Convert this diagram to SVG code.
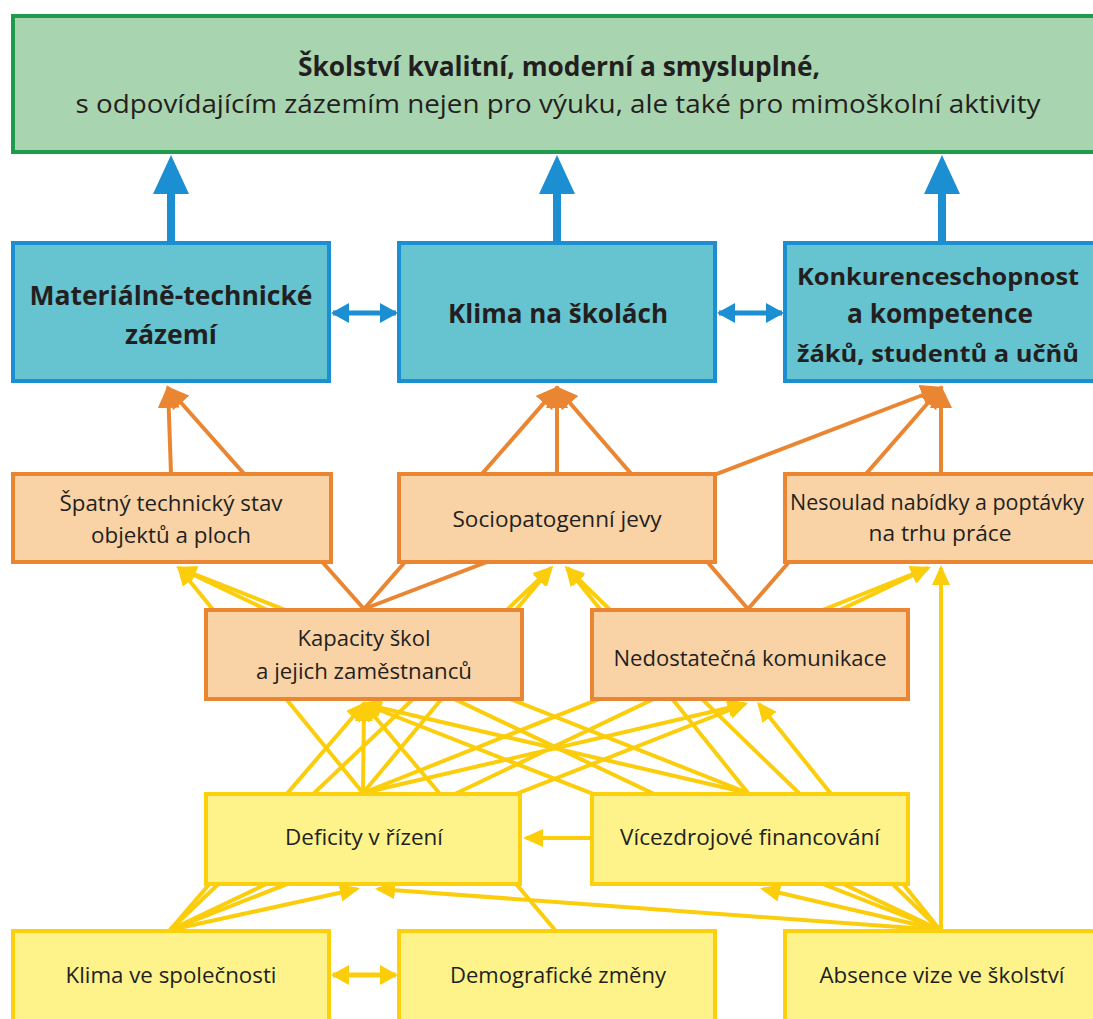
<svg xmlns="http://www.w3.org/2000/svg" width="1093" height="1019" viewBox="0 0 1093 1019">
<style>
.t{font-family:"Open Sans","Noto Sans","Liberation Sans",sans-serif;fill:#231f20;text-anchor:middle}
.s{font-size:22px}
.b{font-size:27px;font-weight:bold}
.gr{fill:#a9d4b0;stroke:#1f9c4b;stroke-width:4}
.bl{fill:#66c3d0;stroke:#1b8fd2;stroke-width:4}
.or{fill:#f9d3a6;stroke:#ea8632;stroke-width:4}
.ye{fill:#fef38b;stroke:#fdd00e;stroke-width:4}
.ly{stroke:#fccd0b;stroke-width:4;fill:none;marker-end:url(#ay)}
.lo{stroke:#ea8632;stroke-width:4;fill:none;marker-end:url(#ao)}
.lb{stroke:#1b8fd2;stroke-width:5;fill:none;marker-end:url(#ab);marker-start:url(#ab)}
.lyd{stroke:#fccd0b;stroke-width:5;fill:none;marker-end:url(#ay2);marker-start:url(#ay2)}
</style>
<defs>
<marker id="ay" markerUnits="userSpaceOnUse" markerWidth="20" markerHeight="18" viewBox="0 0 20 18" refX="17" refY="9" orient="auto"><path d="M0,0 L20,9 L0,18 z" fill="#fccd0b"/></marker>
<marker id="ay2" markerUnits="userSpaceOnUse" markerWidth="18" markerHeight="20" viewBox="0 0 18 20" refX="16" refY="10" orient="auto-start-reverse"><path d="M0,0 L18,10 L0,20 z" fill="#fccd0b"/></marker>
<marker id="ao" markerUnits="userSpaceOnUse" markerWidth="23" markerHeight="22" viewBox="0 0 23 22" refX="20" refY="11" orient="auto"><path d="M0,0 L23,11 L0,22 z" fill="#ea8632"/></marker>
<marker id="ab" markerUnits="userSpaceOnUse" markerWidth="18" markerHeight="20" viewBox="0 0 18 20" refX="16" refY="10" orient="auto-start-reverse"><path d="M0,0 L18,10 L0,20 z" fill="#1b8fd2"/></marker>
</defs>
<rect width="1093" height="1019" fill="#ffffff"/>
<g id="connectors">
<path d="M167,242 V194 H153 L171,155 L189,194 H175 V242 Z" fill="#1b8fd2"/>
<path d="M553,242 V194 H539 L557,155 L575,194 H561 V242 Z" fill="#1b8fd2"/>
<path d="M938,242 V194 H924 L942,155 L960,194 H946 V242 Z" fill="#1b8fd2"/>
<line class="lb" x1="333" y1="313" x2="396" y2="313"/>
<line class="lb" x1="719" y1="313" x2="782" y2="313"/>
<line class="lo" x1="171" y1="473" x2="168" y2="388"/>
<line class="lo" x1="364" y1="609" x2="168" y2="388"/>
<line class="lo" x1="557" y1="473" x2="557" y2="388"/>
<line class="lo" x1="364" y1="609" x2="557" y2="388"/>
<line class="lo" x1="748" y1="609" x2="557" y2="388"/>
<line class="lo" x1="941" y1="473" x2="941" y2="388"/>
<line class="lo" x1="364" y1="609" x2="941" y2="388"/>
<line class="lo" x1="748" y1="609" x2="941" y2="388"/>
<line class="ly" x1="363" y1="793" x2="179" y2="568"/>
<line class="ly" x1="363" y1="793" x2="364" y2="704"/>
<line class="ly" x1="363" y1="793" x2="551" y2="568"/>
<line class="ly" x1="363" y1="793" x2="928" y2="568"/>
<line class="ly" x1="363" y1="793" x2="745" y2="704"/>
<line class="ly" x1="748" y1="793" x2="179" y2="568"/>
<line class="ly" x1="748" y1="793" x2="567" y2="568"/>
<line class="ly" x1="748" y1="793" x2="364" y2="704"/>
<line class="ly" x1="591" y1="838" x2="526" y2="838"/>
<line class="ly" x1="170" y1="930" x2="364" y2="704"/>
<line class="ly" x1="170" y1="930" x2="551" y2="568"/>
<line class="ly" x1="170" y1="930" x2="745" y2="704"/>
<line class="ly" x1="170" y1="930" x2="928" y2="568"/>
<line class="ly" x1="170" y1="930" x2="357" y2="889"/>
<line class="ly" x1="555" y1="930" x2="364" y2="704"/>
<line class="ly" x1="940" y1="930" x2="179" y2="568"/>
<line class="ly" x1="940" y1="930" x2="567" y2="568"/>
<line class="ly" x1="940" y1="930" x2="364" y2="704"/>
<line class="ly" x1="940" y1="930" x2="759" y2="704"/>
<line class="ly" x1="940" y1="930" x2="378" y2="889"/>
<line class="ly" x1="940" y1="930" x2="763" y2="889"/>
<line class="ly" x1="941" y1="930" x2="941" y2="568"/>
<line class="lyd" x1="333" y1="975" x2="396" y2="975"/>
</g>
<g id="goal">
<rect class="gr" x="13" y="16" width="1100" height="136"/>
<text class="t" x="559" y="76" style="font-size:26px;font-weight:bold" textLength="522" lengthAdjust="spacingAndGlyphs">Školství kvalitní, moderní a smysluplné,</text>
<text class="t" x="558" y="113" style="font-size:26px" textLength="965" lengthAdjust="spacingAndGlyphs">s odpovídajícím zázemím nejen pro výuku, ale také pro mimoškolní aktivity</text>
</g>
<g id="n-material">
<rect class="bl" x="13" y="243" width="316" height="138"/>
<text class="t b" x="171" y="305" textLength="283" lengthAdjust="spacingAndGlyphs">Materiálně-technické</text>
<text class="t b" x="171" y="344" textLength="92" lengthAdjust="spacingAndGlyphs">zázemí</text>
</g>
<g id="n-klima-skoly">
<rect class="bl" x="399" y="243" width="316" height="138"/>
<text class="t b" x="558" y="323" textLength="220" lengthAdjust="spacingAndGlyphs">Klima na školách</text>
</g>
<g id="n-konkurence">
<rect class="bl" x="785" y="243" width="330" height="138"/>
<text class="t b" x="938" y="285" style="font-size:24px" textLength="282" lengthAdjust="spacingAndGlyphs">Konkurenceschopnost</text>
<text class="t b" x="940" y="323" textLength="186" lengthAdjust="spacingAndGlyphs">a kompetence</text>
<text class="t b" x="938" y="362" style="font-size:24px" textLength="282" lengthAdjust="spacingAndGlyphs">žáků, studentů a učňů</text>
</g>
<g id="n-stav">
<rect class="or" x="13" y="474" width="318" height="88"/>
<text class="t s" x="171" y="511" textLength="223" lengthAdjust="spacingAndGlyphs">Špatný technický stav</text>
<text class="t s" x="171" y="543" textLength="160" lengthAdjust="spacingAndGlyphs">objektů a ploch</text>
</g>
<g id="n-socio">
<rect class="or" x="399" y="474" width="316" height="88"/>
<text class="t s" x="557" y="527" textLength="209" lengthAdjust="spacingAndGlyphs">Sociopatogenní jevy</text>
</g>
<g id="n-nesoulad">
<rect class="or" x="785" y="474" width="330" height="88"/>
<text class="t s" x="937" y="510" textLength="294" lengthAdjust="spacingAndGlyphs">Nesoulad nabídky a poptávky</text>
<text class="t s" x="940" y="541" textLength="143" lengthAdjust="spacingAndGlyphs">na trhu práce</text>
</g>
<g id="n-kapacity">
<rect class="or" x="206" y="610" width="316" height="89"/>
<text class="t s" x="364" y="646" textLength="133" lengthAdjust="spacingAndGlyphs">Kapacity škol</text>
<text class="t s" x="364" y="679" textLength="216" lengthAdjust="spacingAndGlyphs">a jejich zaměstnanců</text>
</g>
<g id="n-komunikace">
<rect class="or" x="592" y="610" width="316" height="89"/>
<text class="t s" x="750" y="666" textLength="273" lengthAdjust="spacingAndGlyphs">Nedostatečná komunikace</text>
</g>
<g id="n-deficity">
<rect class="ye" x="206" y="794" width="314" height="90"/>
<text class="t s" x="364" y="845" textLength="158" lengthAdjust="spacingAndGlyphs">Deficity v řízení</text>
</g>
<g id="n-financovani">
<rect class="ye" x="592" y="794" width="316" height="90"/>
<text class="t s" x="750" y="845" textLength="260" lengthAdjust="spacingAndGlyphs">Vícezdrojové financování</text>
</g>
<g id="n-klima-spol">
<rect class="ye" x="13" y="931" width="316" height="100"/>
<text class="t s" x="171" y="983" textLength="211" lengthAdjust="spacingAndGlyphs">Klima ve společnosti</text>
</g>
<g id="n-demografie">
<rect class="ye" x="399" y="931" width="316" height="100"/>
<text class="t s" x="558" y="983" textLength="216" lengthAdjust="spacingAndGlyphs">Demografické změny</text>
</g>
<g id="n-vize">
<rect class="ye" x="785" y="931" width="330" height="100"/>
<text class="t s" x="942" y="983" textLength="245" lengthAdjust="spacingAndGlyphs">Absence vize ve školství</text>
</g>
</svg>
